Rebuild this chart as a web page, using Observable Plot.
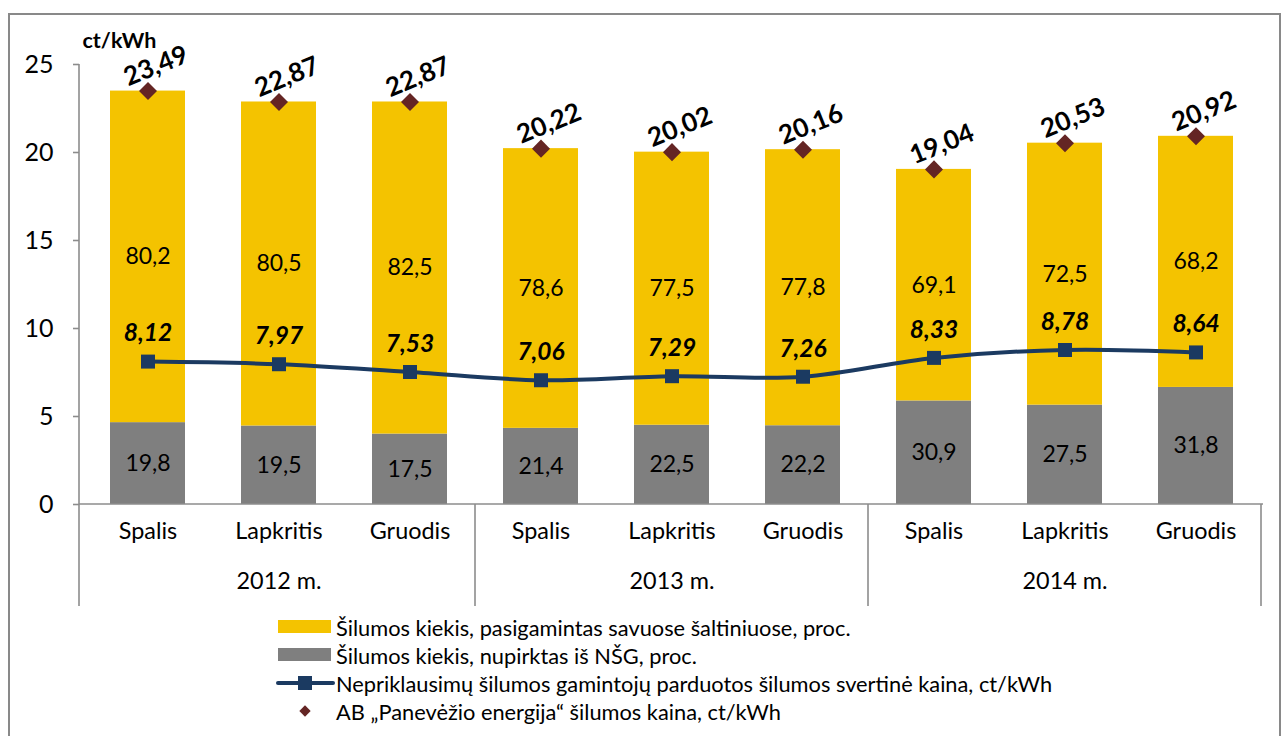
<!DOCTYPE html>
<html><head><meta charset="utf-8">
<script src="https://cdn.jsdelivr.net/npm/d3@7"></script>
<script src="https://cdn.jsdelivr.net/npm/@observablehq/plot@0.6"></script>
<style>
body{margin:0;background:#fff;font-family:Lato,"Open Sans",sans-serif;}
#wrap{position:relative;width:1284px;height:736px;overflow:hidden;}
#frame{position:absolute;left:8px;top:13px;width:1273px;height:800px;border:2px solid #898989;box-sizing:border-box;}
#chart{position:absolute;left:0;top:0;}
#legend{position:absolute;left:272px;top:613px;font-size:21.8px;color:#000;}
.row{display:flex;align-items:center;height:28px;white-space:nowrap;}
.sym{width:64px;height:28px;flex:none;display:block}
</style></head>
<body>
<div id="wrap">
  <div id="frame"></div>
  <div id="chart"></div>
  <div id="legend"></div>
</div>
<script>
// ---- data ----
const years = ["2012 m.", "2013 m.", "2014 m."];
const months = ["Spalis", "Lapkritis", "Gruodis"];
const totalPrice = [23.49, 22.87, 22.87, 20.22, 20.02, 20.16, 19.04, 20.53, 20.92];   // AB „Panevėžio energija“ šilumos kaina
const boughtPct  = [19.8, 19.5, 17.5, 21.4, 22.5, 22.2, 30.9, 27.5, 31.8];            // nupirktas iš NŠG, proc.
const ownPct     = [80.2, 80.5, 82.5, 78.6, 77.5, 77.8, 69.1, 72.5, 68.2];            // pasigamintas savuose šaltiniuose, proc.
const indepPrice = [8.12, 7.97, 7.53, 7.06, 7.29, 7.26, 8.33, 8.78, 8.64];            // NŠG svertinė kaina
const yTicks = [0, 5, 10, 15, 20, 25];
const seriesNames = [
  "Šilumos kiekis, pasigamintas savuose šaltiniuose, proc.",
  "Šilumos kiekis, nupirktas iš NŠG, proc.",
  "Nepriklausimų šilumos gamintojų parduotos šilumos svertinė kaina, ct/kWh",
  "AB „Panevėžio energija“ šilumos kaina, ct/kWh"
];
const colors = {own: "#F4C300", bought: "#7F7F7F", line: "#1B3A61", diamond: "#642524", axis: "#8C8C8C"};

// ---- build tables ----
const rows = [];
years.forEach((yr, i) => months.forEach((m, j) => {
  const k = i * 3 + j;
  rows.push({key: yr + "|" + m, year: yr, month: m, idx: j, total: totalPrice[k], bought: boughtPct[k], own: ownPct[k], indep: indepPrice[k]});
}));
const keys = rows.map(d => d.key);
const segs = [];
rows.forEach(d => {
  const g = d.total * d.bought / 100;
  segs.push({key: d.key, series: "bought", y1: 0, y2: g, pct: d.bought});
});
rows.forEach(d => {
  const g = d.total * d.bought / 100;
  segs.push({key: d.key, series: "own", y1: g, y2: d.total, pct: d.own});
});
const comma = (v, p) => v.toFixed(p).replace(".", ",");

// category axis frame (baseline, group separators, y axis line) using the plot's scales
function categoryFrame(index, scales, values, dims) {
  const x = scales.x, y = scales.y;
  const step = x.step(), bw = x.bandwidth();
  const y0 = y(0), yb = y0 + 102;
  const g = d3.create("svg:g").attr("stroke", colors.axis).attr("stroke-width", 1.6).attr("fill", "none");
  g.append("line").attr("x1", dims.marginLeft).attr("x2", dims.width - dims.marginRight).attr("y1", y0).attr("y2", y0);
  g.append("line").attr("x1", dims.marginLeft).attr("x2", dims.marginLeft).attr("y1", y(yTicks[yTicks.length - 1])).attr("y2", yb);
  const starts = rows.filter(d => d.idx === 0).map(d => x(d.key) - (step - bw) / 2).slice(1);
  starts.push(x(keys[keys.length - 1]) + bw + (step - bw) / 2);
  starts.forEach(px => g.append("line").attr("x1", px).attr("x2", px).attr("y1", y0).attr("y2", yb));
  return g.node();
}

const plot = Plot.plot({
  width: 1284,
  height: 612,
  marginTop: 64,
  marginBottom: 108,
  marginLeft: 79,
  marginRight: 21,
  style: {fontFamily: "Lato, 'Open Sans', sans-serif", background: "transparent", overflow: "visible", color: "#000"},
  x: {type: "band", domain: keys, paddingInner: 0.43, paddingOuter: 0.215, axis: null},
  y: {domain: [0, 25]},
  marks: [
    Plot.axisY({ticks: yTicks, tickSize: 6, tickPadding: 20, fontSize: 25, label: null, stroke: colors.axis, strokeWidth: 1.6, fill: "#000"}),
    Plot.barY(segs, {x: "key", y1: "y1", y2: "y2", fill: d => colors[d.series]}),
    Plot.text(segs, {x: "key", y: d => (d.y1 + d.y2) / 2, text: d => comma(d.pct, 1), fontSize: 23, fill: "#000"}),
    categoryFrame,
    Plot.text(rows, {x: "key", text: "month", frameAnchor: "bottom", dy: 34, fontSize: 23.4, fill: "#000"}),
    Plot.text(rows.filter(d => d.idx === 1), {x: "key", text: "year", frameAnchor: "bottom", dy: 84, fontSize: 23.4, fill: "#000"}),
    Plot.line(rows, {x: "key", y: "indep", stroke: colors.line, strokeWidth: 4, curve: "catmull-rom"}),
    Plot.dot(rows, {x: "key", y: "indep", symbol: "square", r: 7.9, fill: colors.line, stroke: "none"}),
    Plot.text(rows, {x: "key", y: "indep", text: d => comma(d.indep, 2), dy: -28, fontSize: 24.5, fontWeight: "bold", fontStyle: "italic", fill: "#000"}),
    Plot.dot(rows, {x: "key", y: "total", symbol: "square", rotate: 45, r: 7.2, fill: colors.diamond, stroke: "none"}),
    Plot.text(rows, {x: "key", y: "total", text: d => comma(d.total, 2), rotate: -22, dx: 8, dy: -25, fontSize: 26, fontWeight: "bold", fill: "#000"}),
    Plot.text(["ct/kWh"], {frameAnchor: "top-left", dx: 3, dy: -32, fontSize: 21.5, fontWeight: "bold", textAnchor: "start", fill: "#000"})
  ]
});
document.getElementById("chart").appendChild(plot);

// ---- legend ----
const legend = d3.select("#legend");
const items = [
  {type: "rect", color: colors.own, label: seriesNames[0]},
  {type: "rect", color: colors.bought, label: seriesNames[1]},
  {type: "line", color: colors.line, label: seriesNames[2]},
  {type: "diamond", color: colors.diamond, label: seriesNames[3]}
];
items.forEach(it => {
  const row = legend.append("div").attr("class", "row");
  const s = row.append("svg").attr("class", "sym").attr("width", 64).attr("height", 28);
  if (it.type === "rect") s.append("rect").attr("x", 6).attr("y", 7).attr("width", 53).attr("height", 13).attr("fill", it.color);
  if (it.type === "line") {
    s.append("line").attr("x1", 6).attr("x2", 61).attr("y1", 14).attr("y2", 14).attr("stroke", it.color).attr("stroke-width", 4).attr("stroke-linecap", "round");
    s.append("rect").attr("x", 26).attr("y", 7).attr("width", 14).attr("height", 14).attr("fill", it.color);
  }
  if (it.type === "diamond") s.append("rect").attr("x", 29).attr("y", 10).attr("width", 8).attr("height", 8).attr("fill", it.color).attr("transform", "rotate(45 33 14)");
  row.append("span").text(it.label);
});
</script>
</body></html>
